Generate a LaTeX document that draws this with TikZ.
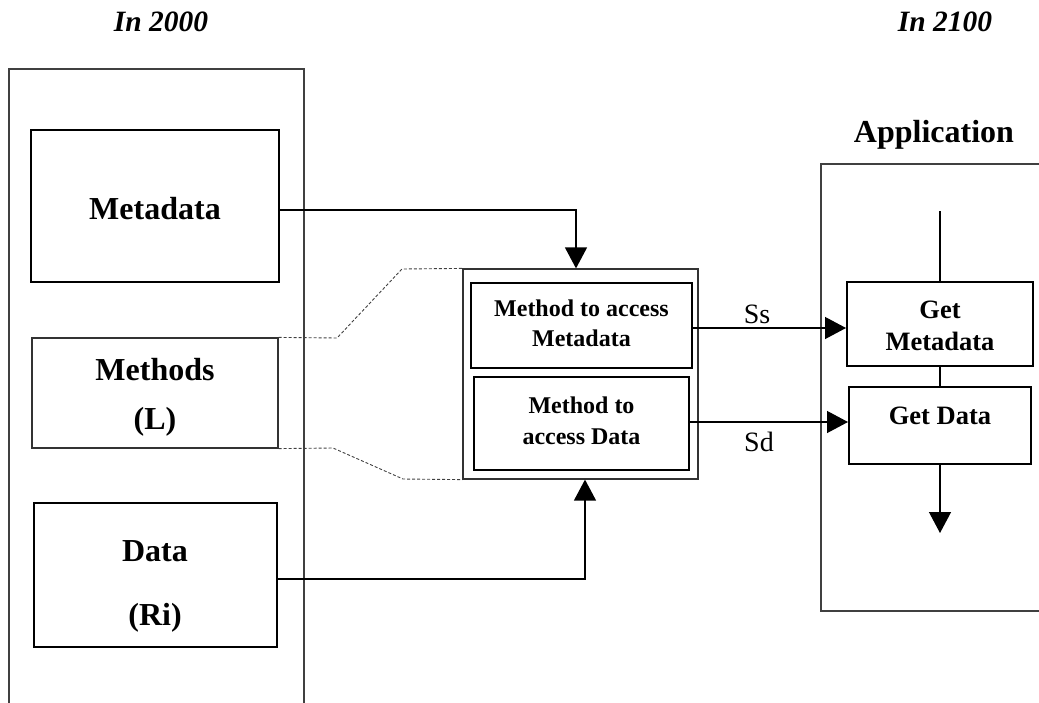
\documentclass[tikz,border=0pt]{standalone}
\usepackage{fontspec}
\setmainfont{Liberation Serif}
\usetikzlibrary{arrows.meta}

\tikzset{
  thick box/.style={draw=black, line width=2pt, rectangle, inner sep=0pt},
  thin box/.style={draw=black!80, line width=1.2pt, rectangle, inner sep=0pt},
  frame/.style={draw=black!75, line width=1.3pt},
  conn/.style={draw=black, line width=1.3pt},
  arr/.style={conn, -{Triangle[length=21pt, width=22pt]}},
  guide/.style={draw=black!75, line width=0.9pt, dash pattern=on 3pt off 2pt},
  bigtxt/.style={anchor=base, inner sep=0pt, font=\fontsize{32}{32}\selectfont\bfseries},
  yeartxt/.style={anchor=base, inner sep=0pt, font=\fontsize{29.5}{30}\selectfont\bfseries\itshape},
  methtxt/.style={anchor=base, inner sep=0pt, font=\fontsize{24}{24}\selectfont\bfseries},
  gettxt/.style={anchor=base, inner sep=0pt, font=\fontsize{26.5}{26}\selectfont\bfseries},
  sigtxt/.style={anchor=base, inner sep=0pt, font=\fontsize{28}{28}\selectfont},
}

\begin{document}
\begin{tikzpicture}[x=1pt, y=-1pt]
  \useasboundingbox (0,0) rectangle (1039,702);

  % headings
  \node[yeartxt] (y2000) at (161,31) {In 2000};
  \node[yeartxt] (y2100) at (945,31) {In 2100};
  \node[bigtxt]  (apptitle) at (934,142) {Application};

  % outer frames (open towards the page edges)
  \draw[frame] (9,705) -- (9,69) -- (304,69) -- (304,705);
  \draw[frame] (1042,164) -- (821,164) -- (821,611) -- (1042,611);

  % left column boxes
  \node[thick box, minimum width=248pt, minimum height=152pt] (meta) at (155,206) {};
  \node[thin box,  minimum width=246pt, minimum height=110pt] (meth) at (155,393) {};
  \node[thick box, minimum width=243pt, minimum height=144pt] (data) at (155.5,575) {};

  \node[bigtxt] (metaT)  at (155,219) {Metadata};
  \node[bigtxt] (methT1) at (155,380) {Methods};
  \node[bigtxt] (methT2) at (155,429) {(L)};
  \node[bigtxt] (dataT1) at (155,561) {Data};
  \node[bigtxt] (dataT2) at (155,625) {(Ri)};

  % access methods
  \node[thin box,  minimum width=235pt, minimum height=210pt] (mid) at (580.5,374) {};
  \node[thick box, minimum width=221pt, minimum height=85pt] (in1) at (581.5,325.5) {};
  \node[thick box, minimum width=215pt, minimum height=93pt] (in2) at (581.5,423.5) {};

  \node[methtxt] (in1T1) at (581.5,316.5) {Method to access};
  \node[methtxt] (in1T2) at (581.5,346.5) {Metadata};
  \node[methtxt] (in2T1) at (581.5,413) {Method to};
  \node[methtxt] (in2T2) at (581.5,444) {access Data};

  % application boxes
  \node[thick box, minimum width=186pt, minimum height=84pt] (gm) at (940,324) {};
  \node[thick box, minimum width=182pt, minimum height=77pt] (gd) at (940,425.5) {};

  \node[gettxt] (gmT1) at (940,318) {Get};
  \node[gettxt] (gmT2) at (940,350) {Metadata};
  \node[gettxt] (gdT)  at (940,424.5) {Get Data};

  % dashed lines linking the methods to their expansion
  \draw[guide] (meth.north east) -- (337,338) -- (402,269) -- (mid.north west);
  \draw[guide] (meth.south east) -- (333,448) -- (403,479) -- (mid.south west);

  % metadata and data feeding the methods
  \draw[arr] ([yshift=-4pt]meta.east) -| ([xshift=-4.5pt]mid.north);
  \draw[arr] ([yshift=-4pt]data.east) -| ([xshift=4.5pt]mid.south);

  % signals to the application
  \draw[arr] ([yshift=-2.5pt]in1.east) -- ([yshift=-2.5pt]in1.east -| gm.west);
  \node[sigtxt] (ssT) at (757,323) {Ss};
  \draw[arr] ([yshift=1.5pt]in2.east) -- ([yshift=1.5pt]in2.east -| gd.west);
  \node[sigtxt] (sdT) at (759,451) {Sd};

  % flow through the application
  \coordinate (flowin)  at (940,211);
  \coordinate (flowout) at (940,533);
  \draw[conn] (flowin) -- (gm.north);
  \draw[conn] (gm.south) -- (gd.north);
  \draw[arr]  (gd.south) -- (flowout);
\end{tikzpicture}
\end{document}
